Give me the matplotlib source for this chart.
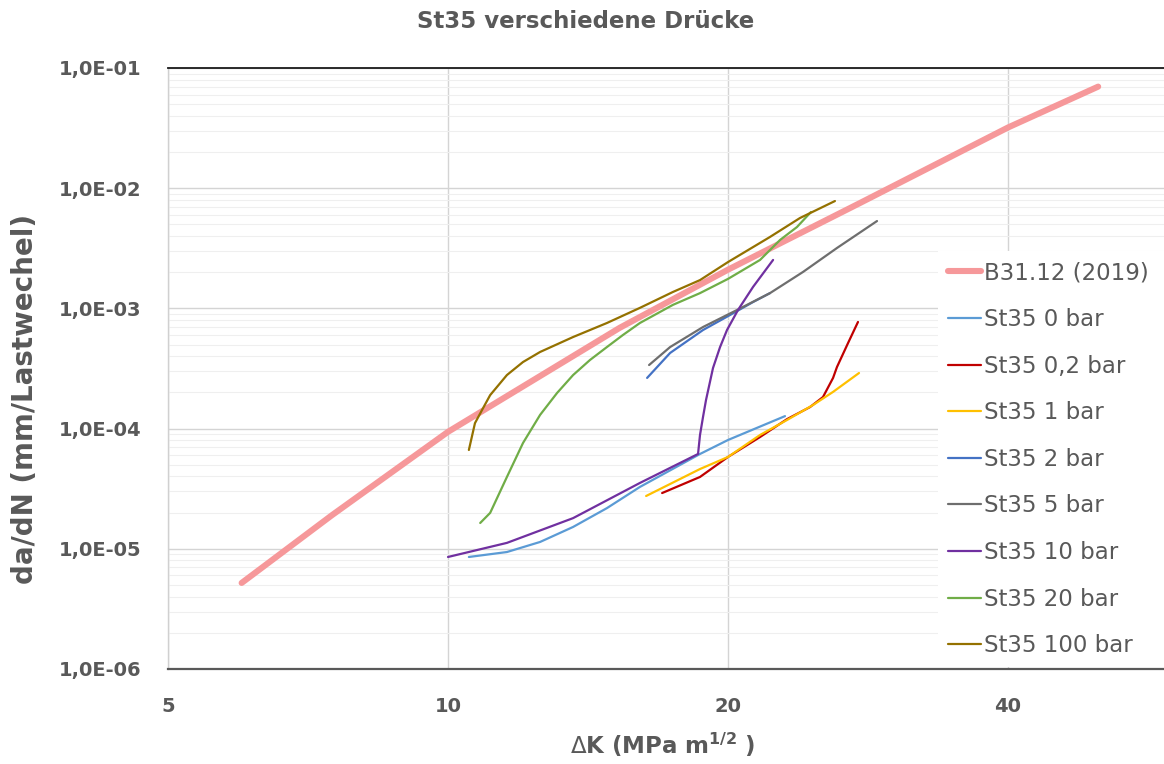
import matplotlib
matplotlib.use("Agg")
import matplotlib.pyplot as plt
from matplotlib.ticker import LogLocator, NullLocator, FixedLocator, FixedFormatter, NullFormatter

# ---------------- data ----------------
# B31.12 (2019) design curve
dk_b3112 = [6.0, 7.5, 10.0, 15.3, 20.0, 27.7, 40.0, 50.0]
dadn_b3112 = [5.2e-6, 1.9e-5, 9.4e-5, 6.9e-4, 2.1e-3, 7.5e-3, 3.2e-2, 7.0e-2]

# St35 measurements at different hydrogen pressures
dk_0bar = [10.53, 11.57, 12.56, 13.63, 14.82, 16.08, 18.66, 20.0, 23.03]
dadn_0bar = [8.55e-6, 9.4e-6, 1.14e-5, 1.52e-5, 2.18e-5, 3.27e-5, 6.15e-5, 8.04e-5, 1.27e-4]

dk_02bar = [16.99, 18.66, 20.0, 21.65, 23.15, 24.50, 25.30, 25.94, 26.19, 26.92, 27.59]
dadn_02bar = [2.91e-5, 3.96e-5, 5.81e-5, 8.51e-5, 1.20e-4, 1.51e-4, 1.83e-4, 2.64e-4, 3.25e-4, 5.15e-4, 7.71e-4]

dk_1bar = [16.33, 18.66, 20.0, 21.65, 23.15, 24.68, 25.94, 27.66]
dadn_1bar = [2.75e-5, 4.61e-5, 5.81e-5, 8.85e-5, 1.18e-4, 1.57e-4, 2.02e-4, 2.90e-4]

dk_2bar = [16.37, 17.33, 18.80, 20.10, 21.28, 22.19]
dadn_2bar = [2.64e-4, 4.26e-4, 6.61e-4, 8.81e-4, 1.13e-3, 1.34e-3]

dk_5bar = [16.45, 17.33, 18.80, 20.45, 22.19, 24.08, 26.19, 28.92]
dadn_5bar = [3.38e-4, 4.77e-4, 7.00e-4, 9.70e-4, 1.34e-3, 2.01e-3, 3.18e-3, 5.33e-3]

dk_10bar = [10.0, 11.57, 13.63, 16.08, 18.57, 18.66, 18.80, 18.94, 19.27, 19.61, 19.95, 20.50, 21.28, 22.36]
dadn_10bar = [8.55e-6, 1.12e-5, 1.80e-5, 3.53e-5, 6.15e-5, 8.85e-5, 1.25e-4, 1.73e-4, 3.19e-4,
              4.77e-4, 6.61e-4, 9.70e-4, 1.51e-3, 2.53e-3]

dk_20bar = [10.83, 11.10, 11.57, 12.04, 12.56, 13.10, 13.63, 14.21, 14.82, 15.42, 16.08, 17.45,
            18.66, 20.0, 21.65, 22.75, 23.72, 24.56]
dadn_20bar = [1.64e-5, 1.99e-5, 3.96e-5, 7.59e-5, 1.30e-4, 1.98e-4, 2.79e-4, 3.72e-4, 4.77e-4,
              6.01e-4, 7.56e-4, 1.07e-3, 1.34e-3, 1.76e-3, 2.53e-3, 3.71e-3, 4.75e-3, 6.34e-3]

dk_100bar = [10.53, 10.69, 10.88, 11.10, 11.57, 12.04, 12.56, 13.63, 14.82, 16.08, 17.45, 18.66,
             20.0, 22.19, 23.90, 26.06]
dadn_100bar = [6.64e-5, 1.11e-4, 1.43e-4, 1.90e-4, 2.79e-4, 3.58e-4, 4.34e-4, 5.78e-4, 7.56e-4,
               1.01e-3, 1.37e-3, 1.72e-3, 2.43e-3, 3.93e-3, 5.65e-3, 7.82e-3]

series_labels = ["St35 0 bar", "St35 0,2 bar", "St35 1 bar", "St35 2 bar", "St35 5 bar",
                 "St35 10 bar", "St35 20 bar", "St35 100 bar"]

x_ticks = [5, 10, 20, 40]
x_tick_labels = ["5", "10", "20", "40"]
y_ticks = [1e-6, 1e-5, 1e-4, 1e-3, 1e-2, 1e-1]
y_tick_labels = ["1,0E-06", "1,0E-05", "1,0E-04", "1,0E-03", "1,0E-02", "1,0E-01"]

# ---------------- styling ----------------
text_color = "#595959"
series_colors = ["#5B9BD5", "#C00000", "#FFC000", "#4472C4", "#6E6E6E",
                 "#7030A0", "#70AD47", "#947100"]

W, H = 1164, 764
fig = plt.figure(figsize=(W / 100, H / 100), dpi=100)
ax = fig.add_axes([168 / W, 1 - 669 / H, (W - 168) / W, (669 - 68) / H])

ax.set_xscale("log", base=2)
ax.set_yscale("log")
ax.set_xlim(5, 58.85)
ax.set_ylim(1e-6, 1e-1)

# grid
ax.yaxis.set_minor_locator(LogLocator(base=10, subs=range(2, 10), numticks=20))
ax.yaxis.set_minor_formatter(NullFormatter())
ax.xaxis.set_minor_locator(NullLocator())
ax.xaxis.set_major_locator(FixedLocator(x_ticks))
ax.xaxis.set_major_formatter(FixedFormatter(x_tick_labels))
ax.yaxis.set_major_locator(FixedLocator(y_ticks))
ax.yaxis.set_major_formatter(FixedFormatter(y_tick_labels))
ax.grid(which="major", color="#d4d4d4", linewidth=1.0)
ax.grid(which="minor", axis="y", color="#efefef", linewidth=0.8)
ax.set_axisbelow(True)

ax.tick_params(which="both", length=0)
ax.tick_params(axis="y", pad=19, labelsize=14, labelcolor=text_color)
ax.tick_params(axis="x", pad=20, labelsize=14, labelcolor=text_color)
for lab in ax.get_xticklabels() + ax.get_yticklabels():
    lab.set_fontweight("bold")

ax.spines["right"].set_visible(False)
ax.spines["left"].set_color("#d0d0d0")
ax.spines["left"].set_linewidth(1.0)
ax.spines["top"].set_color("#1a1a1a")
ax.spines["top"].set_linewidth(1.3)
ax.spines["bottom"].set_color("#595959")
ax.spines["bottom"].set_linewidth(1.6)

# curves
ax.plot(dk_b3112, dadn_b3112, color="#F6989A", linewidth=4.4,
        solid_capstyle="round", label="B31.12 (2019)")
curves = [(dk_0bar, dadn_0bar), (dk_02bar, dadn_02bar), (dk_1bar, dadn_1bar),
          (dk_2bar, dadn_2bar), (dk_5bar, dadn_5bar), (dk_10bar, dadn_10bar),
          (dk_20bar, dadn_20bar), (dk_100bar, dadn_100bar)]
for (xs, ys), lab, col in zip(curves, series_labels, series_colors):
    ax.plot(xs, ys, color=col, linewidth=1.6, solid_joinstyle="round",
            solid_capstyle="round", label=lab)

leg = ax.legend(loc="upper left", bbox_to_anchor=(0.773, 0.0, 0.227, 0.6955),
                mode="expand", borderaxespad=0,
                frameon=True, facecolor="white", edgecolor="none", framealpha=1,
                fancybox=False, fontsize=16.5, handlelength=1.45, handletextpad=0.1,
                labelspacing=1.03, borderpad=0.45)
for t in leg.get_texts():
    t.set_color(text_color)

# titles
fig.text(586 / W, 1 - 22 / H, "St35 verschiedene Drücke", ha="center", va="center",
         fontsize=16.5, fontweight="bold", color=text_color)
fig.text(25 / W, 1 - 399 / H, "da/dN (mm/Lastwechel)", ha="center", va="center",
         rotation=90, fontsize=20, fontweight="bold", color=text_color)
fig.text(663 / W, 1 - 745 / H, r"$\Delta$K (MPa m$^{\mathbf{1/2}}$ )", ha="center",
         va="center", fontsize=16.5, fontweight="bold", color=text_color)

fig.savefig("out.png", dpi=100, facecolor="white")
